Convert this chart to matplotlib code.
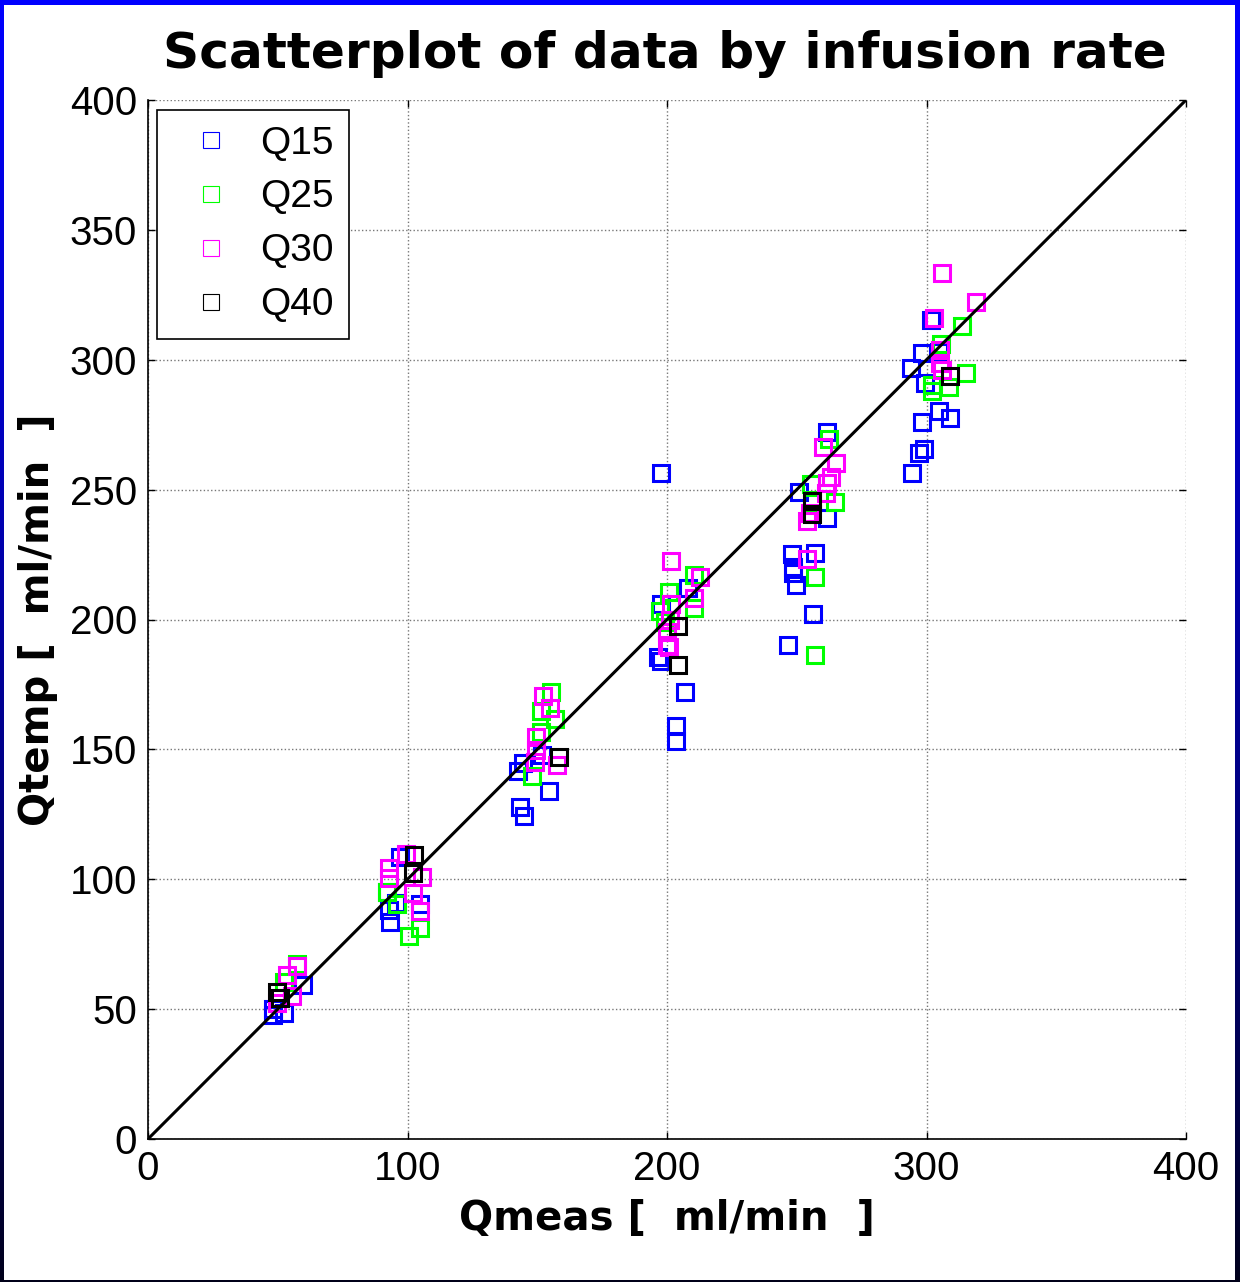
import numpy as np
import matplotlib
matplotlib.use("Agg")
import matplotlib.pyplot as plt
from matplotlib.lines import Line2D
from matplotlib.patches import Rectangle

# data (Qmeas, Qtemp) per infusion rate
q15_x = [48.0, 52.4, 48.3, 59.6,
         97.1, 93.3, 92.0, 95.5, 104.8, 93.0,
         142.7, 144.6, 154.6, 143.4, 144.9, 152.0,
         197.6, 208.1, 197.6, 196.7, 197.6, 206.8, 203.5, 203.5,
         261.8, 250.9, 261.8, 248.0, 257.0, 248.4, 248.4, 249.6, 256.4, 246.5,
         301.6, 298.4, 293.9, 299.3, 304.8, 309.0, 298.4, 299.0, 297.0, 294.3, 305.0]
q15_y = [50.0, 48.6, 47.7, 59.3,
         108.7, 83.7, 95.0, 91.0, 90.5, 88.0,
         141.8, 144.9, 134.1, 127.7, 124.5, 148.0,
         256.5, 212.1, 206.0, 185.5, 184.1, 172.1, 159.1, 153.3,
         272.2, 249.2, 239.0, 225.2, 225.5, 220.1, 217.8, 213.2, 202.1, 190.1,
         315.4, 302.5, 296.7, 291.2, 280.4, 277.6, 276.0, 265.6, 264.0, 256.4, 303.0]

q25_x = [57.4, 52.4,
         92.0, 95.8, 100.6, 105.0,
         155.2, 151.3, 156.8, 151.3, 148.1,
         210.4, 200.8, 210.4, 197.3, 199.2,
         262.4, 255.3, 264.7, 257.2, 257.0, 256.0,
         313.6, 305.5, 315.1, 302.2, 308.7, 302.2]
q25_y = [67.4, 60.4,
         95.2, 90.5, 78.3, 81.1,
         172.2, 164.9, 161.6, 156.6, 139.9,
         217.3, 210.5, 204.4, 203.4, 198.9,
         269.4, 252.2, 245.1, 216.2, 186.3, 245.0,
         313.1, 306.0, 295.0, 290.4, 289.6, 288.1]

q30_x = [57.4, 53.4, 55.5, 49.8,
         99.3, 92.9, 92.9, 105.7, 102.2, 104.8,
         152.3, 154.9, 149.4, 149.4, 157.7, 149.1,
         201.4, 212.7, 210.4, 201.4, 201.0, 200.0, 200.0, 200.8,
         260.2, 265.2, 263.1, 261.8, 261.4, 254.1, 254.1, 255.0,
         306.1, 318.9, 302.9, 305.2, 305.2, 306.0]
q30_y = [66.6, 63.1, 55.0, 52.4,
         109.7, 104.2, 100.5, 101.0, 94.8, 87.9,
         170.5, 165.8, 154.7, 149.8, 144.0, 145.3,
         222.6, 216.5, 208.3, 206.0, 200.0, 195.0, 190.0, 189.3,
         266.3, 260.3, 255.0, 252.4, 248.6, 238.0, 223.3, 241.0,
         333.5, 322.4, 316.0, 303.7, 298.6, 296.0]

q40_x = [49.8, 50.9, 102.5, 102.2, 158.4, 204.4, 204.4, 255.7, 255.7, 309.0]
q40_y = [56.7, 54.3, 109.2, 102.3, 147.0, 197.6, 182.5, 245.7, 240.6, 293.7]

labels = ["Q15", "Q25", "Q30", "Q40"]
colors = ["#0000ff", "#00ff00", "#ff00ff", "#000000"]
ticks = [0, 100, 200, 300, 400]
yticks = [0, 50, 100, 150, 200, 250, 300, 350, 400]

W, H = 1240, 1282
fig = plt.figure(figsize=(W / 100, H / 100), dpi=100)

# dark blue gradient frame
bg = fig.add_axes([0, 0, 1, 1], zorder=-1)
bg.axis("off")
t = np.linspace(0, 1, 256)
grad = np.zeros((256, 1, 3))
grad[:, 0, 2] = 0.1 + 0.9 * t ** 0.8
bg.imshow(grad, aspect="auto", extent=[0, 1, 1, 0])
bg.set_xlim(0, 1)
bg.set_ylim(0, 1)
bg.add_patch(Rectangle((4 / W, 2 / H), (W - 9) / W, (H - 7) / H,
                       facecolor="white", edgecolor="none", transform=bg.transAxes))

ax = fig.add_axes([148 / W, 1 - 1139 / H, (1186 - 148) / W, (1139 - 100) / H])
ax.set_facecolor("white")

series = [(q15_x, q15_y), (q25_x, q25_y), (q30_x, q30_y), (q40_x, q40_y)]
for (xs, ys), c, lab in zip(series, colors, labels):
    ax.plot(xs, ys, linestyle="None", marker="s", markersize=11.5,
            markerfacecolor="none", markeredgecolor=c, markeredgewidth=2.2,
            zorder=3 if c != "#000000" else 5)

ax.plot([0, 400], [0, 400], color="black", linewidth=2.2, zorder=4)

ax.set_xlim(0, 400)
ax.set_ylim(0, 400)
ax.set_xticks(ticks)
ax.set_yticks(yticks)
ax.grid(True, linestyle=":", color="#777777", linewidth=1.0)
ax.set_axisbelow(True)
for s in ["top", "right"]:
    ax.spines[s].set_visible(False)
for s in ["left", "bottom"]:
    ax.spines[s].set_linewidth(1.2)
ax.tick_params(direction="in", length=5, width=1.0, top=True, right=True,
               labelsize=29, pad=8)
for lbl in ax.get_xticklabels() + ax.get_yticklabels():
    lbl.set_fontfamily("Liberation Sans")

ax.set_xlabel("Qmeas [  ml/min  ]", fontsize=29, fontweight="bold", labelpad=8)
ax.set_ylabel("Qtemp [  ml/min  ]", fontsize=29, fontweight="bold", labelpad=8)

fig.text(665 / W, 1 - 68 / H, "Scatterplot of data by infusion rate",
         ha="center", va="baseline", fontsize=36.2, fontweight="bold")

handles = [Line2D([0], [0], linestyle="None", marker="s", markersize=11,
                  markerfacecolor="none", markeredgecolor=c, markeredgewidth=0.8,
                  label=lab) for c, lab in zip(colors, labels)]
leg = ax.legend(handles=handles, loc="upper left",
                bbox_to_anchor=(9 / 1038, 1 - 10 / 1039), borderaxespad=0,
                prop={"family": "Liberation Sans", "size": 28},
                frameon=True, fancybox=False, framealpha=1,
                handlelength=1.97, handletextpad=0.27, labelspacing=0.46,
                borderpad=0.4)
leg.get_frame().set_edgecolor("black")
leg.get_frame().set_linewidth(1.2)

fig.savefig("out.png", dpi=100)
